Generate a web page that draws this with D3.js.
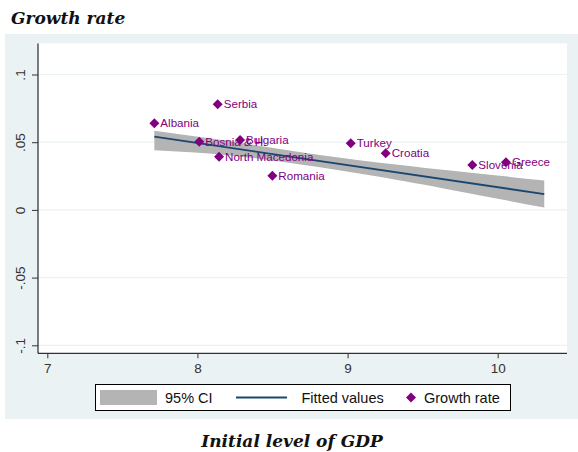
<!DOCTYPE html>
<html>
<head>
<meta charset="utf-8">
<script src="https://cdn.jsdelivr.net/npm/d3@7"></script>
<style>
  body { margin: 0; background: #ffffff; }
  svg { display: block; }
</style>
</head>
<body>
<svg id="chart" width="578" height="452"></svg>
<script>
// Countries and their observed values
const countries = ["Albania", "Serbia", "Bosnia & H.", "Bulgaria", "North Macedonia",
                   "Romania", "Turkey", "Croatia", "Slovenia", "Greece"];
const initialGdp = [7.713, 8.135, 8.012, 8.284, 8.144, 8.499, 9.021, 9.254, 9.831, 10.055];
const growthRate = [0.064, 0.078, 0.0504, 0.0517, 0.0393, 0.0253, 0.0492, 0.0418, 0.0332, 0.0352];

// Linear fit and its 95% confidence band
const fitX = [7.713, 10.31];
const fitY = [0.0541, 0.0117];
const ciX = [7.713, 8.2, 8.7, 9.2, 9.7, 10.31];
const ciUpper = [0.0585, 0.0510, 0.0424, 0.0350, 0.0289, 0.0217];
const ciLower = [0.0440, 0.0404, 0.0334, 0.0246, 0.0146, 0.0017];

// Axis ticks
const xTicks = [7, 8, 9, 10];
const yTicks = [-0.1, -0.05, 0, 0.05, 0.1];
const yTickLabels = ["-.1", "-.05", "0", ".05", ".1"];

const svg = d3.select("#chart");
const sans = "'Liberation Sans', Arial, sans-serif";
const serif = "'DejaVu Serif', serif";
const purple = "#800080";
const navy = "#1a476f";
const ciGrey = "#b4b4b4";
const panelBg = "#eaf2f3";

// Frame geometry
const panel = { x: 5, y: 34, w: 573, h: 385 };
const plot = { left: 38, right: 567, top: 43.5, bottom: 353.3 };

const x = d3.scaleLinear().domain([7, 10]).range([47.3, 497.7]);
const y = d3.scaleLinear().domain([-0.1, 0.1]).range([345.3, 74.5]);

// Outer panel and plot region
svg.append("rect").attr("x", panel.x).attr("y", panel.y)
  .attr("width", panel.w).attr("height", panel.h).attr("fill", panelBg);
svg.append("rect").attr("x", plot.left).attr("y", plot.top)
  .attr("width", plot.right - plot.left).attr("height", plot.bottom - plot.top)
  .attr("fill", "#ffffff");

// Horizontal grid lines
svg.append("g").selectAll("line").data(yTicks).join("line")
  .attr("x1", plot.left).attr("x2", plot.right)
  .attr("y1", d => y(d)).attr("y2", d => y(d))
  .attr("stroke", panelBg).attr("stroke-width", 1.2);

// Confidence band
const band = d3.area()
  .x((d, i) => x(ciX[i]))
  .y0((d, i) => y(ciLower[i]))
  .y1((d, i) => y(ciUpper[i]))
  .curve(d3.curveNatural);
svg.append("path").datum(ciX).attr("d", band).attr("fill", ciGrey);

// Fitted line
const fitLine = d3.line().x((d, i) => x(fitX[i])).y((d, i) => y(fitY[i]));
svg.append("path").datum(fitX).attr("d", fitLine)
  .attr("fill", "none").attr("stroke", navy).attr("stroke-width", 1.8);

// Diamond marker
const diamond = {
  draw(ctx, size) {
    const r = Math.sqrt(size / 2);
    ctx.moveTo(0, -r); ctx.lineTo(r, 0); ctx.lineTo(0, r); ctx.lineTo(-r, 0); ctx.closePath();
  }
};
const marker = d3.symbol().type(diamond).size(50);

const pts = svg.append("g").selectAll("g").data(countries).join("g")
  .attr("transform", (d, i) => `translate(${x(initialGdp[i])},${y(growthRate[i])})`);
pts.append("path").attr("d", marker).attr("fill", purple);
pts.append("text").text(d => d)
  .attr("x", 6).attr("dy", "0.35em")
  .attr("font-family", sans).attr("font-size", 11.6).attr("fill", purple);

// Axes
const yAxis = svg.append("g").attr("transform", `translate(${plot.left},0)`)
  .call(d3.axisLeft(y).tickValues(yTicks).tickSize(6).tickFormat((d, i) => yTickLabels[i]));
yAxis.select(".domain").attr("d", `M0,${plot.top}V${plot.bottom}`).attr("stroke", "#000");
yAxis.selectAll(".tick line").attr("stroke", "#333");
yAxis.selectAll(".tick text")
  .attr("x", null).attr("dy", null)
  .attr("transform", "translate(-13,0) rotate(-90)")
  .attr("text-anchor", "middle")
  .attr("font-family", sans).attr("font-size", 13.5).attr("fill", "#333");

const xAxis = svg.append("g").attr("transform", `translate(0,${plot.bottom})`)
  .call(d3.axisBottom(x).tickValues(xTicks).tickSize(5).tickFormat(d3.format("d")));
xAxis.select(".domain").attr("d", `M${plot.left},0H${plot.right}`).attr("stroke", "#000");
xAxis.selectAll(".tick line").attr("stroke", "#333");
xAxis.selectAll(".tick text")
  .attr("y", 20).attr("dy", null)
  .attr("font-family", sans).attr("font-size", 13.5).attr("fill", "#333");

// Titles
svg.append("text").text("Growth rate")
  .attr("x", 11).attr("y", 24)
  .attr("font-family", serif).attr("font-weight", "bold").attr("font-style", "italic")
  .attr("font-size", 17).attr("fill", "#111");
svg.append("text").text("Initial level of GDP")
  .attr("x", 292).attr("y", 447).attr("text-anchor", "middle")
  .attr("font-family", serif).attr("font-weight", "bold").attr("font-style", "italic")
  .attr("font-size", 17).attr("fill", "#111");

// Legend
const lg = svg.append("g");
lg.append("rect").attr("x", 95.5).attr("y", 384.5).attr("width", 415).attr("height", 26)
  .attr("fill", "#fff").attr("stroke", "#000").attr("stroke-width", 1);
lg.append("rect").attr("x", 100).attr("y", 390).attr("width", 57).attr("height", 15).attr("fill", ciGrey);
lg.append("text").text("95% CI").attr("x", 165).attr("y", 403)
  .attr("font-family", sans).attr("font-size", 14.5).attr("fill", "#111");
lg.append("line").attr("x1", 236).attr("x2", 287).attr("y1", 397.5).attr("y2", 397.5)
  .attr("stroke", navy).attr("stroke-width", 1.8);
lg.append("text").text("Fitted values").attr("x", 301.5).attr("y", 403)
  .attr("font-family", sans).attr("font-size", 14.5).attr("fill", "#111");
lg.append("path").attr("d", marker).attr("transform", "translate(411,397.5)").attr("fill", purple);
lg.append("text").text("Growth rate").attr("x", 424).attr("y", 403)
  .attr("font-family", sans).attr("font-size", 14.5).attr("fill", "#111");
</script>
</body>
</html>
